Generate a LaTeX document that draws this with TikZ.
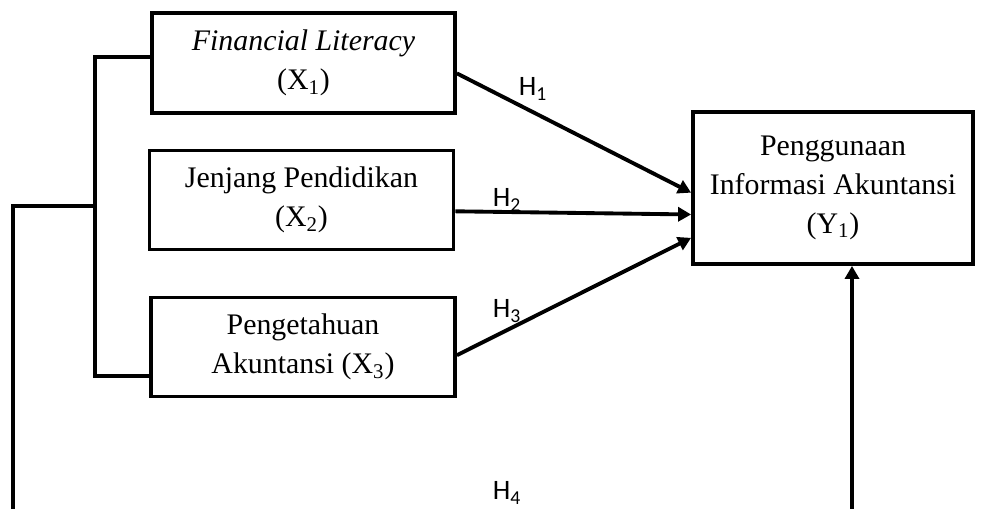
\documentclass[tikz,border=0pt]{standalone}
\usepackage{fontspec}
\setmainfont{Liberation Serif}
\newfontfamily\hfont{Carlito}
\usetikzlibrary{arrows.meta,calc}
\begin{document}
\begin{tikzpicture}[
        x=0.02cm, y=-0.02cm,
        var/.style={draw, line width=2.2pt, rectangle, align=center, inner sep=0pt,
            font=\fontsize{17}{22}\selectfont},
        link/.style={draw, line width=2.2pt},
        path/.style={link, -{Triangle[length=0.26cm, width=0.28cm]}},
        hyp/.style={font=\hfont\fontsize{16}{18}\selectfont, inner sep=0pt},
    ]
    \useasboundingbox (0,0) rectangle (995,509);

    \node[var, minimum width=6.06cm, minimum height=2cm] (x1) at (303.5,63)
        {\textit{Financial Literacy}\\(X\textsubscript{1})};
    \node[var, minimum width=6.08cm, minimum height=1.98cm] (x2) at (301.5,200)
        {Jenjang Pendidikan\\(X\textsubscript{2})};
    \node[var, minimum width=6.08cm, minimum height=1.98cm] (x3) at (303,347)
        {Pengetahuan\\Akuntansi (X\textsubscript{3})};
    \node[var, minimum width=5.6cm, minimum height=3.04cm] (y) at (833,188)
        {Penggunaan\\Informasi Akuntansi\\(Y\textsubscript{1})};

    \coordinate (b1) at (95,57);
    \coordinate (b2) at (95,206);
    \coordinate (b3) at (95,376);
    \coordinate (c2) at (13,206);
    \coordinate (c3) at (13,509);
    \coordinate (h4) at (852,509);

    \draw[link] (b1 -| x1.west) -- (b1) -- (b3) -- (b3 -| x3.west);
    \draw[link] (b2) -- (c2) -- (c3);

    \draw[path] ($(x1.north east)!0.6!(x1.south east)$) -- ($(y.north west)!0.53!(y.south west)$);
    \draw[path] ($(x2.north east)!0.61!(x2.south east)$) -- ($(y.north west)!0.67!(y.south west)$);
    \draw[path] ($(x3.north east)!0.58!(x3.south east)$) -- ($(y.north west)!0.82!(y.south west)$);
    \draw[path] (h4) -- (h4 |- y.south);

    \node[hyp] (h1) at (533,89) {H\textsubscript{1}};
    \node[hyp] (h2) at (507,200) {H\textsubscript{2}};
    \node[hyp] (h3) at (507,311) {H\textsubscript{3}};
    \node[hyp] (h4l) at (507,493) {H\textsubscript{4}};

\end{tikzpicture}
\end{document}
